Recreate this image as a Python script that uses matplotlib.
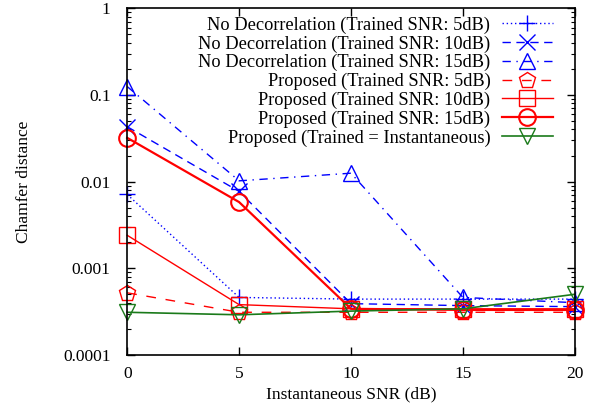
import matplotlib
matplotlib.use("Agg")
import matplotlib.pyplot as plt
from matplotlib.ticker import LogLocator, FixedLocator, NullFormatter

plt.rcParams['font.family'] = ['Liberation Serif', 'DejaVu Serif']
plt.rcParams['mathtext.fontset'] = 'stix'

snr = [0, 5, 10, 15, 20]
labels = [
    "No Decorrelation (Trained SNR: 5dB)",
    "No Decorrelation (Trained SNR: 10dB)",
    "No Decorrelation (Trained SNR: 15dB)",
    "Proposed (Trained SNR: 5dB)",
    "Proposed (Trained SNR: 10dB)",
    "Proposed (Trained SNR: 15dB)",
    "Proposed (Trained = Instantaneous)",
]
nodec_5 = [0.0071, 0.00046, 0.00044, 0.00044, 0.00044]
nodec_10 = [0.043, 0.0077, 0.00039, 0.00037, 0.00036]
nodec_15 = [0.125, 0.0102, 0.0125, 0.00046, 0.00040]
prop_5 = [0.00052, 0.00031, 0.00031, 0.00031, 0.00031]
prop_10 = [0.0024, 0.00038, 0.00034, 0.00034, 0.00034]
prop_15 = [0.032, 0.0058, 0.00034, 0.00033, 0.00033]
prop_inst = [0.00031, 0.00029, 0.00032, 0.00034, 0.00050]

xticks = [0, 5, 10, 15, 20]
yticks = [0.0001, 0.001, 0.01, 0.1, 1]
yticklabels = ["0.0001", "0.001", "0.01", "0.1", "1"]

blue = '#0000ff'
red = '#ff0000'
green = '#1a7a1a'

fig = plt.figure(figsize=(6.0, 4.16), dpi=100)
ax = fig.add_axes([0.212, 0.147, 0.746, 0.833])

ms = 12
common = dict(ms=ms, clip_on=False)
ax.plot(snr, nodec_5, color=blue, ls=(0, (1, 2)), lw=1, marker='+', mew=1, label=labels[0], **common)
ax.plot(snr, nodec_10, color=blue, ls=(0, (6, 4)), lw=1, marker='x', mew=1, label=labels[1], **common)
ax.plot(snr, nodec_15, color=blue, ls=(0, (6, 4, 1, 4)), lw=1, marker='^', mew=1, mfc='none', label=labels[2], **common)
ax.plot(snr, prop_5, color=red, ls=(0, (7, 7)), lw=1, marker='p', mew=1, mfc='none', label=labels[3], **common)
ax.plot(snr, prop_10, color=red, ls='-', lw=1, marker='s', mew=1, mfc='none', label=labels[4], **common)
ax.plot(snr, prop_15, color=red, ls='-', lw=1.6, marker='o', mew=1.5, mfc='none', label=labels[5], **common)
ax.plot(snr, prop_inst, color=green, ls='-', lw=1.2, marker='v', mew=1, mfc='none', label=labels[6], **common)

ax.set_yscale('log')
ax.set_xlim(0, 20)
ax.set_ylim(0.0001, 1)
ax.xaxis.set_major_locator(FixedLocator(xticks))
ax.yaxis.set_major_locator(FixedLocator(yticks))
ax.set_yticklabels(yticklabels)
ax.yaxis.set_minor_locator(LogLocator(base=10, subs=range(2, 10)))
ax.yaxis.set_minor_formatter(NullFormatter())
ax.tick_params(which='both', direction='in', top=True, right=True, labelsize=12.5)
ax.tick_params(axis='y', pad=12)
ax.tick_params(axis='x', pad=8)
ax.tick_params(which='major', length=6, width=1)
ax.tick_params(which='minor', length=3, width=0.8)
for s in ax.spines.values():
    s.set_linewidth(1.2)

ax.set_xlabel("Instantaneous SNR (dB)", fontsize=12.5, labelpad=3)
ax.set_ylabel("Chamfer distance", fontsize=12.5, labelpad=22)

ax.legend(loc='upper right', frameon=False, markerfirst=False, fontsize=13.2,
          handlelength=2.75, labelspacing=0.08, borderaxespad=0.2, handletextpad=0.65,
          bbox_to_anchor=(0.975, 1.008))

fig.savefig("out.png", dpi=100)
